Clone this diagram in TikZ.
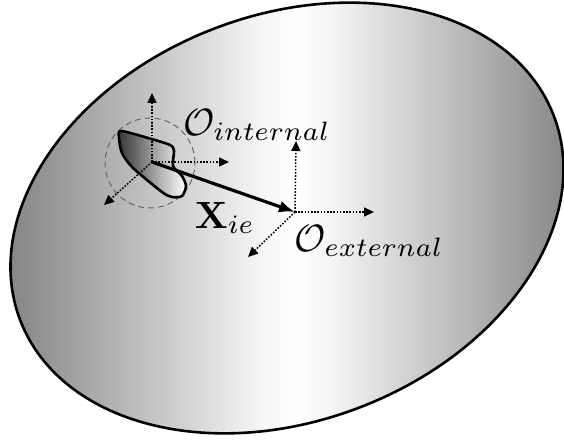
\documentclass[tikz,border=0pt]{standalone}
\usepackage{amsmath}
\usetikzlibrary{arrows.meta}
\tikzset{
  axisline/.style={line width=1.5pt, dash pattern=on 1.6pt off 1.6pt, -{Triangle[length=10pt,width=9pt]}},
  vecline/.style={line width=3.2pt, -{Latex[length=16pt,width=12pt]}},
  lbl/.style={inner sep=0pt},
}
\newcommand{\bigtxt}[1]{\scalebox{3.8}{$#1$}}
\pgfdeclarehorizontalshading{bodyshade}{100bp}{
  color(0bp)=(black!48); color(25bp)=(black!48); color(37.5bp)=(black!24); color(47.5bp)=(black!4);
  color(51bp)=(white); color(54bp)=(black!4); color(64bp)=(black!24); color(75bp)=(black!47); color(100bp)=(black!47)}
\begin{document}
\begin{tikzpicture}[x=1pt,y=-1pt]
\useasboundingbox (0,0) rectangle (564,443);
% body
\begin{scope}
  \clip (287,218) ellipse [x radius=285.7, y radius=202.9, rotate=21];
  \shade[shading=bodyshade] (8,0) rectangle (566,443);
\end{scope}
\draw[line width=2.6pt] (287,218) ellipse [x radius=285.7, y radius=202.9, rotate=21];
% dashed circle
\node[draw=black!60, dash pattern=on 6pt off 4pt, line width=1pt, circle, minimum size=90pt, inner sep=0pt] (circ) at (150,163) {};
% blob
\shade[left color=black!80, right color=white, draw=black, line width=2.6pt, line join=round]
  plot[smooth cycle, tension=0.45] coordinates {(121,131) (148,138) (170,145) (174,151) (173,166) (182,176) (186,186) (182,196) (172,197) (162,192) (133,168) (122,153) (119,138)};
% origins
\coordinate (oi) at (152,162);
\coordinate (oe) at (295,212);
\coordinate (oiu) at (152,93);
\coordinate (oir) at (229,162);
\coordinate (oid) at (104,205);
\coordinate (oeu) at (296,141);
\coordinate (oer) at (374,212);
\coordinate (oed) at (248,257);
\draw[axisline] (oi) -- (oiu);
\draw[axisline] (oi) -- (oir);
\draw[axisline] (oi) -- (oid);
\draw[axisline] (oe) -- (oeu);
\draw[axisline] (oe) -- (oer);
\draw[axisline] (oe) -- (oed);
\draw[vecline] (oi) -- (oe);
% labels
\node[lbl] (lint) at (257,125) {\bigtxt{\mathcal{O}_{internal}}};
\node[lbl] (lext) at (369,241) {\bigtxt{\mathcal{O}_{external}}};
\node[lbl] (lx) at (225,218) {\bigtxt{\mathbf{X}_{ie}}};
\end{tikzpicture}
\end{document}
